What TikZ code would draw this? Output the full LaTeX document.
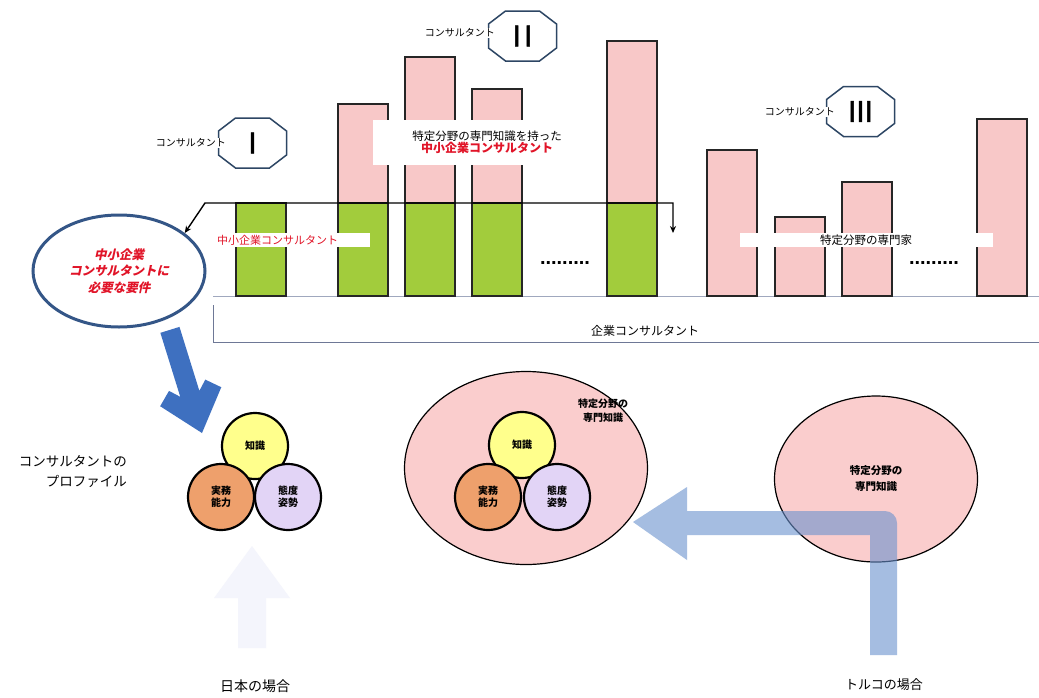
\documentclass[tikz,border=0pt]{standalone}
\usepackage{fontspec}
\newfontfamily\jp{Noto Sans CJK JP}
\newfontfamily\jpsl[FakeSlant=0.22]{Noto Sans CJK JP}
\newfontfamily\latin{Liberation Sans}
\newfontfamily\numfont[FakeBold=1.6]{Liberation Sans}
\usetikzlibrary{arrows.meta,shapes.geometric}

\definecolor{barpink}{RGB}{248,200,200}
\definecolor{bargreen}{RGB}{162,204,60}
\definecolor{octcol}{RGB}{45,70,100}
\definecolor{reqblue}{RGB}{52,86,135}
\definecolor{bigblue}{RGB}{62,112,192}
\definecolor{paleblue}{RGB}{105,145,205}
\definecolor{ghostblue}{RGB}{244,245,252}
\definecolor{knowyellow}{RGB}{255,255,140}
\definecolor{skillorange}{RGB}{238,160,108}
\definecolor{attlavender}{RGB}{226,212,246}
\definecolor{circpink}{RGB}{250,205,205}
\definecolor{basegray}{RGB}{160,168,190}
\definecolor{framegray}{RGB}{110,120,150}
\definecolor{labelred}{RGB}{225,20,40}

\begin{document}
\begin{tikzpicture}[x=1pt,y=-1pt,
  bar/.style={draw=black!85,line width=1.3pt},
  pinkbar/.style={bar,fill=barpink},
  greenbar/.style={bar,fill=bargreen},
  whitebox/.style={fill=white,inner sep=0pt},
  txt/.style={font=\jp\fontsize{#1}{#1}\selectfont,inner sep=1pt},
  txt/.default=11,
  numeral/.style={font=\numfont\fontsize{30}{30}\selectfont,inner sep=0pt},
  octedge/.style={draw=octcol,line width=1.5pt},
  octagon/.pic={\draw[octedge] (-17,-25) -- (17,-25) -- (34,-12) -- (34,12)
      -- (17,25) -- (-17,25) -- (-34,12) -- (-34,-12) -- cycle;},
  dots/.style={font=\latin\bfseries\fontsize{20}{20}\selectfont,inner sep=0pt},
  brk/.style={draw=black,line width=1.4pt,arrows={Stealth[length=7pt,width=6pt]-Stealth[length=7pt,width=6pt]}},
  profile/.style={circle,draw=black,line width=2.2pt,minimum size=66pt,inner sep=0pt,
      font=\jp\bfseries\fontsize{10}{12}\selectfont,align=center},
  field/.style={ellipse,draw=black,line width=1.2pt,fill=circpink,inner sep=0pt},
]
\useasboundingbox (0,0) rectangle (1039,697);
\fill[white] (0,0) rectangle (1039,697);

% ---------- consultant population: base line and frame ----------
\draw[basegray,line width=1pt] (213,296) -- (1039,296);
\draw[framegray,line width=1pt] (213,305) -- (213,342) -- (1039,342);
\node[txt=12] (allcons) at (645,331) {企業コンサルタント};

% ---------- bars ----------
\foreach \x/\t in {338/104,405/57,472/89,607/41}
  \draw[pinkbar] (\x,\t) rectangle ({\x+50},203);
\foreach \x in {236,338,405,472,607}
  \draw[greenbar] (\x,203) rectangle ({\x+50},296);
\foreach \x/\t in {707/150,775/217,842/182,977/119}
  \draw[pinkbar] (\x,\t) rectangle ({\x+50},296);

% ---------- label strips over the bars ----------
\node[whitebox,minimum width=228pt,minimum height=45pt,align=center] (specsme) at (487,142)
  {\jp\fontsize{11.5}{17}\selectfont 特定分野の専門知識を持った\\
   \jp\bfseries\fontsize{12}{17}\selectfont\color{labelred}中小企業コンサルタント};
\node[whitebox,anchor=west,minimum height=14pt,text width=153pt,align=left] (smecons) at (217,240)
  {\jp\fontsize{11}{12}\selectfont\color{labelred}中小企業コンサルタント};
\node[whitebox,minimum width=253pt,minimum height=14pt] (expert) at (866,240)
  {\jp\fontsize{11.5}{12}\selectfont 特定分野の専門家};

\node[dots] (dotsA) at (565,263) {.........};
\node[dots] (dotsB) at (934,263) {.........};

% ---------- consultant type badges ----------
\pic at (252.5,143) {octagon};
\pic at (522.5,36) {octagon};
\pic at (860.5,111.5) {octagon};
\node[numeral] (typeI) at (252.5,143) {I};
\node[numeral] (typeII) at (522.5,36) {I\kern3ptI};
\node[numeral] (typeIII) at (860.5,111.5) {III};
\node[txt=10,fill=white,anchor=east] (capI) at (227,143) {コンサルタント};
\node[txt=10,fill=white,anchor=east] (capII) at (496,33) {コンサルタント};
\node[txt=10,fill=white,anchor=east] (capIII) at (836,112) {コンサルタント};

% ---------- requirements ellipse and bracket ----------
\node[ellipse,draw=reqblue,line width=3pt,minimum width=172pt,minimum height=112pt,
      inner sep=0pt,align=center,text=labelred,
      font=\jpsl\bfseries\fontsize{12.5}{16.5}\selectfont] (req) at (119,271)
  {中小企業\\コンサルタントに\\必要な要件};
\coordinate (brL) at (205,203);
\coordinate (brR) at (673,203);
\coordinate (brD) at (673,233);
\draw[brk] (req.30) -- (brL) -- (brR) -- (brD);

% ---------- bold arrow from the ellipse to the profile ----------
\begin{scope}[shift={(202,433)},x={(0.297pt,-0.955pt)},y={(0.955pt,0.297pt)}]
  \fill[bigblue] (0,0) -- (-38,32) -- (-50,19) -- (-41,10) -- (-108,10)
    -- (-108,-10) -- (-41,-10) -- (-50,-19) -- (-38,-32) -- cycle;
\end{scope}

% ---------- Japanese profile ----------
\node[align=right,font=\jp\fontsize{13.5}{20}\selectfont,anchor=east,inner sep=0pt] (proflabel) at (127,472)
  {コンサルタントの\\プロファイル};
\node[profile,fill=knowyellow] (jKnow) at (255,446) {知識};
\node[profile,fill=skillorange] (jSkill) at (221,497) {実務\\能力};
\node[profile,fill=attlavender] (jAtt) at (288,497) {態度\\姿勢};

% faint upward arrow
\fill[ghostblue] (238,648) -- (238,598) -- (214,598) -- (252,546) -- (290,598)
  -- (266,598) -- (266,648) -- cycle;

% ---------- profile with specialised knowledge ----------
\node[field,minimum width=243pt,minimum height=193pt] (mid) at (526,468) {};
\node[align=center,font=\jp\bfseries\fontsize{10}{14}\selectfont,inner sep=0pt] (midlabel) at (603,411)
  {特定分野の\\専門知識};
\node[profile,fill=knowyellow] (mKnow) at (522,445) {知識};
\node[profile,fill=skillorange] (mSkill) at (488,497) {実務\\能力};
\node[profile,fill=attlavender] (mAtt) at (557,497) {態度\\姿勢};

% ---------- Turkish case ----------
\node[field,minimum width=203pt,minimum height=166pt,align=center,
      font=\jp\bfseries\fontsize{10.5}{16}\selectfont] (turk) at (876,479)
  {特定分野の\\専門知識};

% bent arrow from the Turkish case
\fill[paleblue,opacity=0.6] (870,655) -- (870,535) -- (687,535) -- (687,560) -- (633,522)
  -- (687,487) -- (687,511) [rounded corners=12pt] -- (897,511) [sharp corners] -- (897,655) -- cycle;

% ---------- captions ----------
\node[txt=14] (japan) at (255,686) {日本の場合};
\node[txt=13] (turkey) at (884,685) {トルコの場合};
\end{tikzpicture}
\end{document}
